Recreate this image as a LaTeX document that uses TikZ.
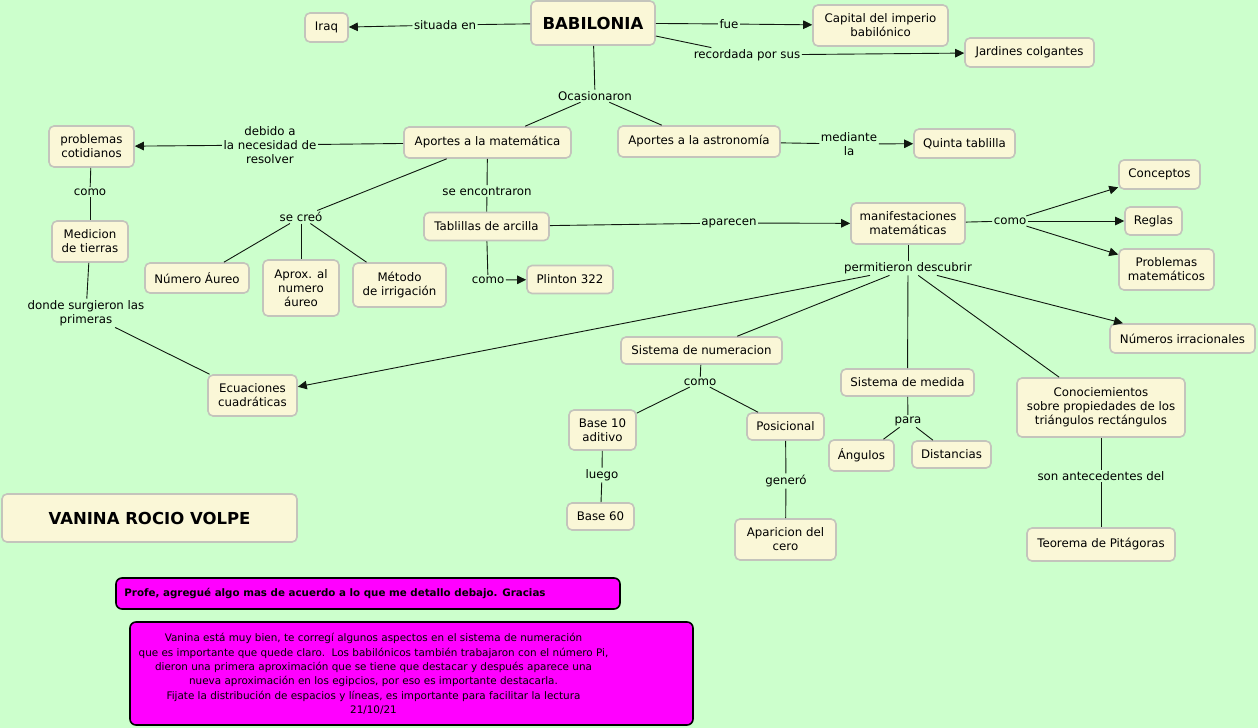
\documentclass[tikz,border=0pt]{standalone}
\usepackage{fontspec}
\setmainfont{DejaVu Sans}
\usetikzlibrary{arrows.meta}
\definecolor{bg}{HTML}{CCFFCC}
\definecolor{cream}{HTML}{FAF7D7}
\definecolor{boxline}{HTML}{C4C4BC}
\definecolor{conn}{HTML}{101810}
\definecolor{mag}{HTML}{FF00FF}
\tikzset{
  box/.style={draw=boxline, line width=1.6pt, fill=cream, rounded corners=5pt,
    align=center, inner sep=1pt, font=\fontsize{11.8}{14}\selectfont},
  lbl/.style={align=center, inner sep=1.5pt, font=\fontsize{11.8}{14}\selectfont},
  ln/.style={draw=conn, line width=0.9pt},
  arr/.style={ln, -{Triangle[length=9pt,width=8.5pt]}},
  magbox/.style={draw=black, line width=1.6pt, fill=mag, rounded corners=6pt, inner sep=0pt},
  magtext/.style={align=center, inner sep=0pt},
}
\begin{document}
\begin{tikzpicture}[x=1pt,y=-1pt]
\fill[bg] (0,0) rectangle (1258,728);
\useasboundingbox (0,0) rectangle (1258,728);

% boxes
\node[box, minimum width=124pt, minimum height=44pt, font=\fontsize{16.5}{18}\selectfont\bfseries] (bab) at (593,23) {BABILONIA};
\node[box, minimum width=43pt, minimum height=29pt] (iraq) at (326.5,27.5) {Iraq};
\node[box, minimum width=135pt, minimum height=41pt] (cap) at (880.5,25.5) {Capital del imperio\\babilónico};
\node[box, minimum width=129pt, minimum height=29pt] (jard) at (1029.5,52.5) {Jardines colgantes};
\node[box, minimum width=167pt, minimum height=31pt] (apm) at (487.5,142.5) {Aportes a la matemática};
\node[box, minimum width=162pt, minimum height=31pt] (apa) at (699,141.5) {Aportes a la astronomía};
\node[box, minimum width=101pt, minimum height=29pt] (quin) at (964.5,143.5) {Quinta tablilla};
\node[box, minimum width=85pt, minimum height=41pt] (prob) at (91.5,146.5) {problemas\\cotidianos};
\node[box, minimum width=76pt, minimum height=41pt] (med) at (90,241.5) {Medicion\\de tierras};
\node[box, minimum width=89pt, minimum height=41pt] (ecu) at (252.5,395.5) {Ecuaciones\\cuadráticas};
\node[box, minimum width=104pt, minimum height=30pt] (nau) at (197,278) {Número Áureo};
\node[box, minimum width=76pt, minimum height=56pt] (aprox) at (301,288) {Aprox. al\\numero\\áureo};
\node[box, minimum width=93pt, minimum height=44pt] (metodo) at (399.5,285) {Método\\de irrigación};
\node[box, minimum width=125pt, minimum height=28pt] (tab) at (486.5,226.5) {Tablillas de arcilla};
\node[box, minimum width=86pt, minimum height=28pt] (plin) at (570,279.5) {Plinton 322};
\node[box, minimum width=114pt, minimum height=41pt] (manif) at (908,223.5) {manifestaciones\\matemáticas};
\node[box, minimum width=81pt, minimum height=29pt] (conc) at (1159.5,174.5) {Conceptos};
\node[box, minimum width=57pt, minimum height=28pt] (reg) at (1153.5,221) {Reglas};
\node[box, minimum width=95pt, minimum height=41pt] (pmat) at (1166.5,269.5) {Problemas\\matemáticos};
\node[box, minimum width=145pt, minimum height=29pt] (nirr) at (1182.5,338.5) {Números irracionales};
\node[box, minimum width=161pt, minimum height=27pt] (sn) at (701.5,350.5) {Sistema de numeracion};
\node[box, minimum width=67pt, minimum height=40pt] (b10) at (602.5,430) {Base 10\\aditivo};
\node[box, minimum width=67pt, minimum height=27pt] (b60) at (600.5,516.5) {Base 60};
\node[box, minimum width=77pt, minimum height=27pt] (pos) at (785.5,426.5) {Posicional};
\node[box, minimum width=101pt, minimum height=41pt] (cero) at (785.5,539.5) {Aparicion del\\cero};
\node[box, minimum width=133pt, minimum height=27pt] (sm) at (907.5,382.5) {Sistema de medida};
\node[box, minimum width=65pt, minimum height=31pt] (ang) at (861.5,455.5) {Ángulos};
\node[box, minimum width=79pt, minimum height=27pt] (dist) at (951.5,454.5) {Distancias};
\node[box, minimum width=168pt, minimum height=59pt] (con) at (1101,407.5) {Conociemientos\\sobre propiedades de los\\triángulos rectángulos};
\node[box, minimum width=148pt, minimum height=33pt] (teo) at (1101,544.5) {Teorema de Pitágoras};
\node[box, minimum width=295pt, minimum height=48pt, font=\fontsize{16.5}{18}\selectfont\bfseries] (vrv) at (149.5,518) {VANINA ROCIO VOLPE};
\node[magbox, minimum width=504pt, minimum height=31pt] (profe) at (368,593.5) {};
\node[magtext, font=\fontsize{10.3}{13}\selectfont\bfseries] (profetxt) at ([xshift=-33pt]profe.center) {Profe, agregué algo mas de acuerdo a lo que me detallo debajo. Gracias};
\node[magbox, minimum width=563pt, minimum height=103pt] (com) at (411.5,673.5) {};
\node[magtext, font=\fontsize{10.4}{14.4}\selectfont] (comtxt) at ([xshift=-38pt,yshift=-0.5pt]com.center) {Vanina está muy bien, te corregí algunos aspectos en el sistema de numeración\\que es importante que quede claro.\ \ Los babilónicos también trabajaron con el número Pi,\\dieron una primera aproximación que se tiene que destacar y después aparece una\\nueva aproximación en los egipcios, por eso es importante destacarla.\\Fijate la distribución de espacios y líneas, es importante para facilitar la lectura\\21/10/21};

% labels
\node[lbl] (sit) at (445,25) {situada en};
\node[lbl] (fue) at (729,24) {fue};
\node[lbl] (rec) at (747,55) {recordada por sus};
\node[lbl] (oca) at (595,96) {Ocasionaron};
\node[lbl] (deb) at (270,145) {debido a\\la necesidad de\\resolver};
\node[lbl] (medla) at (849,144) {mediante\\la};
\node[lbl] (como1) at (90,192) {como};
\node[lbl] (donde) at (86,313) {donde surgieron las\\primeras};
\node[lbl] (secreo) at (301,217) {se creó};
\node[lbl] (seenc) at (487,191) {se encontraron};
\node[lbl] (como2) at (488,280) {como};
\node[lbl] (apar) at (729,223) {aparecen};
\node[lbl] (como3) at (1010,221) {como};
\node[lbl] (perm) at (908,268) {permitieron descubrir};
\node[lbl] (como4) at (700,382) {como};
\node[lbl] (luego) at (602,475) {luego};
\node[lbl] (gen) at (786,481) {generó};
\node[lbl] (para) at (908,421) {para};
\node[lbl] (son) at (1101,476) {son antecedentes del};

% connectors
\draw[ln] (bab) -- (sit); \draw[arr] (sit) -- (iraq);
\draw[ln] (bab) -- (fue); \draw[arr] (fue) -- (cap);
\draw[ln] (bab) -- (rec); \draw[arr] (rec) -- (jard);
\draw[ln] (bab) -- (oca); \draw[ln] (oca) -- (apm); \draw[ln] (oca) -- (apa);
\draw[ln] (apm) -- (deb); \draw[arr] (deb) -- (prob);
\draw[ln] (apa) -- (medla); \draw[arr] (medla) -- (quin);
\draw[ln] (prob) -- (como1); \draw[ln] (como1) -- (med);
\draw[ln] (med) -- (donde); \draw[ln] (donde) -- (ecu);
\draw[ln] (apm) -- (secreo);
\draw[ln] (secreo) -- (nau); \draw[ln] (secreo) -- (aprox); \draw[ln] (secreo) -- (metodo);
\draw[ln] (apm) -- (seenc); \draw[ln] (seenc) -- (tab);
\draw[ln] (tab) -- (como2); \draw[arr] (como2) -- (plin);
\draw[ln] (tab) -- (apar); \draw[arr] (apar) -- (manif);
\draw[ln] (manif) -- (como3);
\draw[arr] (como3) -- (conc); \draw[arr] (como3) -- (reg); \draw[arr] (como3) -- (pmat);
\draw[ln] (manif) -- (perm);
\draw[arr] (perm) -- (ecu);
\draw[ln] (perm) -- (sn);
\draw[ln] (perm) -- (sm);
\draw[ln] (perm) -- (con);
\draw[arr] (perm) -- (nirr);
\draw[ln] (sn) -- (como4); \draw[ln] (como4) -- (b10); \draw[ln] (como4) -- (pos);
\draw[ln] (b10) -- (luego); \draw[ln] (luego) -- (b60);
\draw[ln] (pos) -- (gen); \draw[ln] (gen) -- (cero);
\draw[ln] (sm) -- (para); \draw[ln] (para) -- (ang); \draw[ln] (para) -- (dist);
\draw[ln] (con) -- (son); \draw[ln] (son) -- (teo);
\end{tikzpicture}
\end{document}
